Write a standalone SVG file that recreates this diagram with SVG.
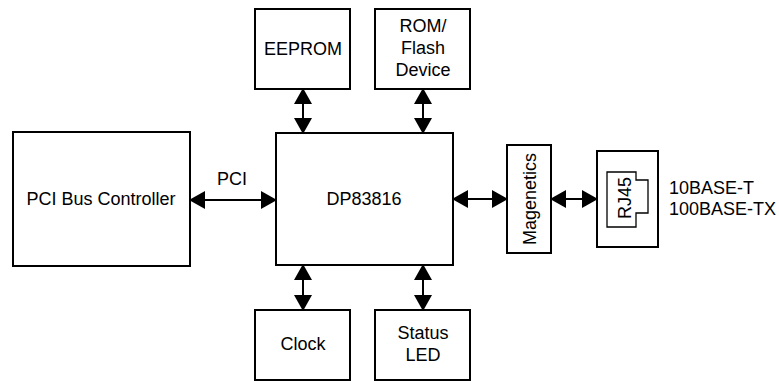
<svg xmlns="http://www.w3.org/2000/svg" width="779" height="381" viewBox="0 0 779 381">
<style>
.box{fill:#fff;stroke:#000;stroke-width:2}
.thin{fill:none;stroke:#000;stroke-width:1.3}
.t{font-family:"Liberation Sans",Arial,sans-serif;font-size:18px;fill:#000}
.c{text-anchor:middle}
.con{stroke:#000;stroke-width:2;fill:none;marker-start:url(#ah);marker-end:url(#ah)}
</style>
<defs>
<marker id="ah" markerUnits="userSpaceOnUse" markerWidth="16" markerHeight="18" refX="15" refY="9" orient="auto-start-reverse" viewBox="0 0 16 18">
<path d="M0,0 L16,9 L0,18 Z" fill="#000"/>
</marker>
</defs>
<rect width="779" height="381" fill="#fff"/>
<g id="connectors">
<line class="con" x1="303" y1="89" x2="303" y2="133"/>
<line class="con" x1="423" y1="89" x2="423" y2="133"/>
<line class="con" x1="303" y1="265" x2="303" y2="310"/>
<line class="con" x1="423" y1="265" x2="423" y2="310"/>
<line class="con" x1="190" y1="200" x2="276" y2="200"/>
<line class="con" x1="453" y1="199" x2="507" y2="199"/>
<line class="con" x1="551" y1="199" x2="597" y2="199"/>
<text class="t c" x="232" y="185">PCI</text>
</g>
<g id="pci-bus-controller">
<rect class="box" x="13" y="132" width="177" height="134"/>
<text class="t c" x="101" y="205">PCI Bus Controller</text>
</g>
<g id="dp83816">
<rect class="box" x="276" y="133" width="177" height="132"/>
<text class="t c" x="364" y="205">DP83816</text>
</g>
<g id="eeprom">
<rect class="box" x="255" y="9" width="95" height="80"/>
<text class="t c" x="303" y="55">EEPROM</text>
</g>
<g id="rom-flash">
<rect class="box" x="375" y="9" width="95" height="80"/>
<text class="t c" x="423" y="32">ROM/</text>
<text class="t c" x="423" y="54">Flash</text>
<text class="t c" x="423" y="76">Device</text>
</g>
<g id="clock">
<rect class="box" x="255" y="310" width="95" height="70"/>
<text class="t c" x="303" y="350">Clock</text>
</g>
<g id="status-led">
<rect class="box" x="375" y="310" width="95" height="70"/>
<text class="t c" x="423" y="339">Status</text>
<text class="t c" x="423" y="361">LED</text>
</g>
<g id="magenetics">
<rect class="box" x="507" y="145" width="44" height="108"/>
<text class="t c" transform="translate(535.5,199) rotate(-90)">Magenetics</text>
</g>
<g id="rj45">
<rect class="box" x="597" y="151" width="61" height="96"/>
<path class="thin" d="M607,172 H636 V180 H648 V213 H636 V227 H607 Z"/>
<text class="t c" transform="translate(630.5,198) rotate(-90)">RJ45</text>
</g>
<g id="media-label">
<text class="t" x="669" y="194">10BASE-T</text>
<text class="t" x="669" y="215">100BASE-TX</text>
</g>
</svg>
